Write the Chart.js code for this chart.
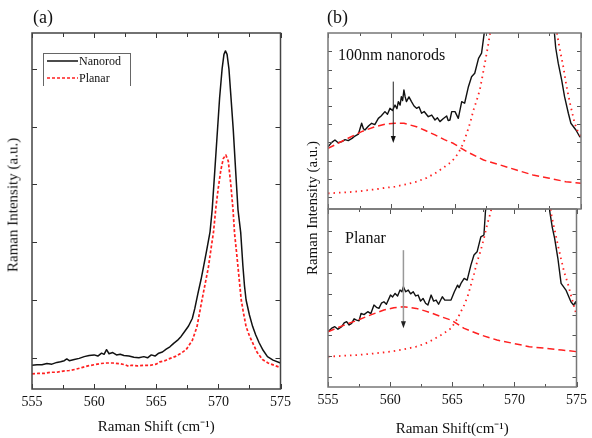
<!DOCTYPE html>
<html><head><meta charset="utf-8">
<script src="https://cdn.jsdelivr.net/npm/chart.js@4.4.1/dist/chart.umd.min.js"></script>
<style>
html,body{margin:0;padding:0;background:#fff;}
#wrap{position:relative;width:592px;height:438px;overflow:hidden;font-family:"Liberation Serif","Times New Roman",serif;color:#111;}
canvas{position:absolute;}
.t{position:absolute;white-space:nowrap;line-height:1;}
</style></head><body>
<div id="wrap">
<canvas id="ca" width="296" height="438" style="left:0;top:0"></canvas>
<canvas id="cbt" width="296" height="212" style="left:296px;top:0"></canvas>
<canvas id="cbb" width="296" height="232" style="left:296px;top:206px"></canvas>
<div class="t" style="left:33px;top:17px;transform:translateY(-50%);font-size:18px">(a)</div>
<div class="t" style="left:327px;top:17px;transform:translateY(-50%);font-size:18px">(b)</div>
<div class="t" style="left:13px;top:205px;transform:translate(-50%,-50%) rotate(-90deg);font-size:15px">Raman Intensity (a.u.)</div>
<div class="t" style="left:312px;top:208px;transform:translate(-50%,-50%) rotate(-90deg);font-size:15px">Raman Intensity (a.u.)</div>
<div class="t" style="left:338px;top:55px;transform:translateY(-50%);font-size:16px">100nm nanorods</div>
<div class="t" style="left:345px;top:238px;transform:translateY(-50%);font-size:16px">Planar</div>
<div style="position:absolute;left:43px;top:53px;width:86px;height:32px;border:1px solid #666;border-bottom:none;"></div>
<svg style="position:absolute;left:0;top:0" width="200" height="100">
<line x1="47" y1="61" x2="78" y2="61" stroke="#111" stroke-width="1.5"/>
<line x1="47" y1="78" x2="78" y2="78" stroke="#ff2020" stroke-width="1.6" stroke-dasharray="3,2"/>
</svg>
<div class="t" style="left:79px;top:61px;transform:translateY(-50%);font-size:12px">Nanorod</div>
<div class="t" style="left:79px;top:78px;transform:translateY(-50%);font-size:12px">Planar</div>
</div>
<script>
// ---------- data (x = Raman shift cm^-1, y = intensity, arbitrary units) ----------
const xTickMarks = [555, 557.5, 560, 562.5, 565, 567.5, 570, 572.5, 575];
const yTicksA = [0, 1, 2, 3, 4, 5];
const yTicksBTop = [0, 1, 2, 3, 4, 5, 6, 7, 8];
const yTicksBBot = [0, 1, 2, 3, 4, 5, 6, 7];

// Panel (a)
const nanorodA = [[555.0,-0.13],[555.4,-0.12],[555.8,-0.12],[556.2,-0.10],[556.6,-0.11],[557.0,-0.08],[557.3,-0.07],[557.6,-0.05],[557.8,-0.02],[558.0,-0.05],[558.4,-0.03],[558.8,-0.01],[559.2,0.02],[559.6,0.04],[560.0,0.05],[560.3,0.03],[560.6,0.08],[560.8,0.06],[561.0,0.14],[561.2,0.07],[561.5,0.09],[561.8,0.05],[562.1,0.06],[562.4,0.04],[562.8,0.03],[563.2,0.01],[563.6,0.00],[564.0,0.02],[564.3,0.00],[564.6,0.05],[564.9,0.03],[565.2,0.08],[565.5,0.10],[565.8,0.15],[566.1,0.19],[566.4,0.25],[566.7,0.30],[567.0,0.37],[567.3,0.46],[567.6,0.55],[567.9,0.68],[568.1,0.85],[568.36,1.12],[568.6,1.35],[568.8,1.57],[569.05,1.85],[569.33,2.18],[569.5,2.56],[569.7,3.2],[569.9,3.85],[570.1,4.5],[570.3,5.0],[570.45,5.25],[570.57,5.31],[570.7,5.25],[570.85,5.0],[571.0,4.55],[571.2,3.94],[571.4,3.2],[571.58,2.56],[571.8,2.16],[571.97,1.60],[572.1,1.25],[572.23,1.00],[572.5,0.74],[572.76,0.54],[573.0,0.40],[573.28,0.26],[573.6,0.13],[573.95,0.02],[574.4,-0.04],[575.0,-0.09]];
const planarA = [[555.0,-0.28],[555.5,-0.27],[556.0,-0.27],[556.5,-0.25],[557.0,-0.25],[557.5,-0.23],[558.0,-0.22],[558.5,-0.20],[559.0,-0.17],[559.5,-0.14],[560.0,-0.12],[560.5,-0.10],[561.0,-0.09],[561.5,-0.09],[562.0,-0.10],[562.5,-0.12],[562.8,-0.15],[563.0,-0.13],[563.5,-0.14],[564.0,-0.13],[564.5,-0.13],[565.0,-0.11],[565.3,-0.07],[565.7,-0.05],[566.0,-0.02],[566.5,0.02],[567.0,0.08],[567.4,0.14],[567.9,0.30],[568.28,0.54],[568.68,1.00],[569.0,1.35],[569.2,1.57],[569.45,1.95],[569.6,2.16],[569.8,2.6],[570.0,2.95],[570.2,3.25],[570.4,3.45],[570.6,3.51],[570.8,3.4],[571.0,3.0],[571.18,2.56],[571.3,2.16],[571.45,1.85],[571.58,1.57],[571.84,1.00],[572.0,0.80],[572.23,0.54],[572.5,0.38],[572.76,0.26],[573.1,0.10],[573.55,-0.03],[574.0,-0.09],[574.5,-0.13],[575.0,-0.17]];

// Panel (b) top: 100nm nanorods
const measuredBTop = [[555.0,2.76],[555.3,3.0],[555.55,3.13],[555.8,2.98],[556.1,3.04],[556.35,3.15],[556.6,3.10],[556.9,3.22],[557.13,3.35],[557.4,3.45],[557.66,4.05],[557.8,3.75],[557.92,3.68],[558.2,3.9],[558.45,4.05],[558.7,3.98],[558.98,4.32],[559.2,4.45],[559.5,4.69],[559.7,4.55],[559.9,4.87],[560.1,4.75],[560.3,5.05],[560.45,4.85],[560.56,5.24],[560.7,5.05],[560.8,5.51],[560.9,5.3],[561.0,5.88],[561.1,5.5],[561.2,5.24],[561.4,5.5],[561.6,5.24],[561.8,5.0],[562.0,4.87],[562.2,4.95],[562.4,4.6],[562.6,4.7],[562.93,4.41],[563.2,4.5],[563.46,4.23],[563.65,4.35],[563.85,4.14],[564.1,4.3],[564.38,4.45],[564.5,4.2],[564.64,4.23],[564.78,4.69],[565.04,4.69],[565.3,4.32],[565.57,5.24],[565.8,5.15],[566.1,6.06],[566.35,6.61],[566.6,6.8],[566.9,7.62],[567.14,7.9],[567.5,9.8],[570.6,null],[572.8,9.8],[573.0,8.2],[573.2,7.35],[573.47,6.43],[573.7,5.51],[574.0,4.6],[574.2,4.05],[574.6,3.68],[574.9,3.31],[575.0,3.3]];
const phononFitBTop = [[555.0,0.2],[556.0,0.24],[557.13,0.29],[558.5,0.4],[559.5,0.5],[560.3,0.57],[561.2,0.7],[562.0,0.84],[562.8,1.05],[563.46,1.3],[564.1,1.6],[564.78,1.94],[565.3,2.4],[565.7,2.95],[565.97,3.5],[566.25,4.1],[566.5,4.78],[566.75,5.3],[567.0,5.88],[567.2,6.6],[567.4,7.35],[567.65,8.3],[567.95,9.6],[570.6,null],[572.95,9.6],[573.3,8.2],[573.6,7.16],[573.85,6.1],[574.13,5.15],[574.5,4.05],[574.75,3.6],[575.0,3.31]];
const broadFitBTop = [[555.0,2.67],[556.3,3.13],[557.66,3.59],[558.7,3.86],[559.5,4.0],[560.3,4.05],[561.0,4.05],[562.0,3.86],[562.7,3.65],[563.46,3.41],[564.2,3.15],[564.9,2.95],[565.97,2.49],[567.3,2.03],[568.6,1.76],[569.9,1.48],[571.2,1.21],[572.5,1.03],[573.8,0.84],[575.0,0.75]];
const arrowBTop = {x: 560.16, from: 6.34, to: 2.96};

// Panel (b) bottom: planar
const measuredBBot = [[555.0,2.18],[555.3,2.35],[555.55,2.42],[555.8,2.3],[556.1,2.42],[556.3,2.6],[556.5,2.66],[556.7,2.5],[556.9,2.58],[557.1,2.8],[557.3,2.74],[557.5,2.7],[557.66,3.06],[557.9,3.0],[558.2,3.14],[558.45,3.05],[558.7,3.46],[558.9,3.35],[559.1,3.3],[559.3,3.55],[559.5,3.62],[559.7,3.5],[560.03,3.94],[560.2,3.85],[560.4,4.02],[560.6,3.9],[560.8,4.18],[560.95,4.1],[561.07,4.34],[561.25,4.1],[561.46,4.18],[561.65,4.0],[561.86,4.1],[562.05,3.9],[562.25,3.94],[562.45,3.65],[562.65,3.78],[562.85,3.55],[563.04,3.46],[563.3,3.94],[563.5,3.65],[563.7,3.7],[563.9,3.5],[564.2,3.86],[564.4,3.7],[564.64,3.7],[564.9,3.7],[565.17,4.1],[565.43,4.42],[565.55,4.3],[565.7,4.5],[565.96,4.74],[566.2,4.66],[566.5,5.38],[566.75,5.87],[567.0,6.02],[567.3,6.74],[567.55,6.83],[567.67,7.95],[567.8,8.6],[570.6,null],[572.75,8.6],[572.85,7.95],[573.05,7.2],[573.24,6.67],[573.5,5.71],[573.76,4.5],[574.15,4.18],[574.55,3.62],[574.76,3.46],[574.94,3.62],[575.0,3.46]];
const phononFitBBot = [[555.0,0.98],[556.2,1.02],[557.4,1.06],[558.7,1.13],[560.03,1.22],[561.1,1.33],[562.1,1.46],[562.8,1.6],[563.4,1.78],[564.2,2.05],[564.9,2.34],[565.43,2.82],[565.96,3.46],[566.25,3.9],[566.5,4.42],[566.75,4.95],[567.0,5.54],[567.3,6.1],[567.55,6.67],[567.8,7.3],[568.1,7.95],[568.35,8.6],[570.6,null],[572.85,8.6],[572.98,7.79],[573.25,7.05],[573.5,6.35],[573.75,5.7],[574.0,5.06],[574.3,4.5],[574.55,3.94],[574.8,3.4],[575.0,2.98]];
const broadFitBBot = [[555.0,2.18],[556.2,2.47],[557.4,2.74],[558.5,3.0],[559.5,3.22],[560.3,3.33],[561.07,3.38],[562.1,3.3],[562.8,3.18],[563.4,3.06],[564.2,2.88],[564.9,2.74],[565.96,2.34],[567.3,2.02],[568.6,1.78],[569.9,1.62],[571.2,1.46],[572.5,1.38],[573.8,1.3],[575.0,1.22]];
const arrowBBot = {x: 561.07, from: 6.1, to: 2.34};

// ---------- helpers ----------
const FONT = '"Liberation Serif","Times New Roman",serif';
Chart.defaults.font.family = FONT;
Chart.defaults.color = '#111';
const toXY = arr => arr.map(([x, y]) => ({x, y}));

function framePlugin(o) {
  return {
    id: 'frame',
    afterDraw(chart) {
      const {ctx, chartArea: a, scales} = chart;
      const xs = scales.x, ys = scales.y;
      ctx.save();
      ctx.strokeStyle = o.tickColor;
      ctx.lineWidth = 1;
      ctx.beginPath();
      xTickMarks.forEach(v => {
        const px = Math.round(xs.getPixelForValue(v)) + 0.5;
        const L = (v % 5 === 0) ? o.major : o.minor;
        if (o.bottomTicks) { ctx.moveTo(px, a.bottom); ctx.lineTo(px, a.bottom - L); }
        if (o.topTicks) { ctx.moveTo(px, a.top); ctx.lineTo(px, a.top + L); }
      });
      o.yTicks.forEach(v => {
        const py = Math.round(ys.getPixelForValue(v)) + 0.5;
        ctx.moveTo(a.left, py); ctx.lineTo(a.left + o.ylen, py);
        ctx.moveTo(a.right, py); ctx.lineTo(a.right - o.ylen, py);
      });
      ctx.stroke();
      ctx.strokeStyle = o.frameColor;
      ctx.lineWidth = o.frameWidth;
      ctx.strokeRect(a.left, a.top, a.right - a.left, a.bottom - a.top);
      ctx.restore();
    }
  };
}
function arrowPlugin(ar, shaftColor, headColor, w) {
  return {
    id: 'arrow',
    afterDatasetsDraw(chart) {
      const {ctx, scales} = chart;
      const px = scales.x.getPixelForValue(ar.x);
      const y0 = scales.y.getPixelForValue(ar.from);
      const y1 = scales.y.getPixelForValue(ar.to);
      ctx.save();
      ctx.strokeStyle = shaftColor; ctx.lineWidth = w;
      ctx.beginPath(); ctx.moveTo(px, y0); ctx.lineTo(px, y1 - 5); ctx.stroke();
      ctx.fillStyle = headColor;
      ctx.beginPath(); ctx.moveTo(px - 2.5, y1 - 7); ctx.lineTo(px + 2.5, y1 - 7); ctx.lineTo(px, y1); ctx.closePath(); ctx.fill();
      ctx.restore();
    }
  };
}
function ds(data, color, width, dash) {
  return {data: toXY(data), borderColor: color, borderWidth: width, borderDash: dash || [],
          pointRadius: 0, tension: 0, spanGaps: false, fill: false, borderJoinStyle: 'round'};
}
function xScale(show, h, padTick, titlePadBottom, titleText) {
  return {
    type: 'linear', min: 555, max: 575, display: show,
    grid: {display: false, drawTicks: false},
    border: {display: false},
    ticks: {stepSize: 5, autoSkip: false, maxRotation: 0, padding: padTick, font: {size: 14, family: FONT}, color: '#111'},
    title: {display: show, text: titleText, font: {size: 15, family: FONT}, color: '#111', padding: {top: 0, bottom: titlePadBottom}},
    afterFit: s => { s.height = h; }
  };
}
function yScale(min, max) {
  return {type: 'linear', min, max, display: false};
}
const common = {responsive: false, devicePixelRatio: 1, animation: false, events: [],
                plugins: {legend: {display: false}, tooltip: {enabled: false}}};

// ---------- panel (a) ----------
new Chart(document.getElementById('ca'), {
  type: 'line',
  data: {datasets: [
    ds(planarA, '#ff2020', 1.7, [3, 2]),
    ds(nanorodA, '#111', 1.5)
  ]},
  options: Object.assign({}, common, {
    layout: {padding: {left: 32, right: 11, top: 33, bottom: 0}},
    scales: {x: xScale(true, 49, 5, 2, 'Raman Shift (cm\u207B\u00B9)'), y: yScale(-0.54, 5.62)}
  }),
  plugins: [framePlugin({yTicks: yTicksA, major: 5, minor: 4, ylen: 5, bottomTicks: true, topTicks: true, tickColor: '#333', frameColor: '#444', frameWidth: 1.5})]
});

// ---------- panel (b) top ----------
new Chart(document.getElementById('cbt'), {
  type: 'line',
  data: {datasets: [
    ds(phononFitBTop, '#ff2020', 1.8, [1.5, 4]),
    ds(broadFitBTop, '#ff2020', 1.5, [7, 4]),
    ds(measuredBTop, '#111', 1.4)
  ]},
  options: Object.assign({}, common, {
    layout: {padding: {left: 32, right: 11, top: 33, bottom: 3}},
    scales: {x: xScale(false, 0, 0, 0, ''), y: yScale(-0.66, 9.01)}
  }),
  plugins: [arrowPlugin(arrowBTop, '#222', '#111', 1), framePlugin({yTicks: yTicksBTop, major: 5, minor: 3, ylen: 4, bottomTicks: true, topTicks: true, tickColor: '#555', frameColor: '#777', frameWidth: 1.5})]
});

// ---------- panel (b) bottom ----------
new Chart(document.getElementById('cbb'), {
  type: 'line',
  data: {datasets: [
    ds(phononFitBBot, '#ff2020', 1.8, [1.5, 4]),
    ds(broadFitBBot, '#ff2020', 1.5, [7, 4]),
    ds(measuredBBot, '#111', 1.4)
  ]},
  options: Object.assign({}, common, {
    layout: {padding: {left: 32, right: 11, top: 3, bottom: 0}},
    scales: {x: xScale(true, 51, 5, 0, 'Raman Shift(cm\u207B\u00B9)'), y: yScale(-0.48, 8.08)}
  }),
  plugins: [arrowPlugin(arrowBBot, '#999', '#222', 1.5), framePlugin({yTicks: yTicksBBot, major: 5, minor: 3, ylen: 4, bottomTicks: true, topTicks: true, tickColor: '#555', frameColor: '#777', frameWidth: 1.5})]
});
</script>
</body></html>
